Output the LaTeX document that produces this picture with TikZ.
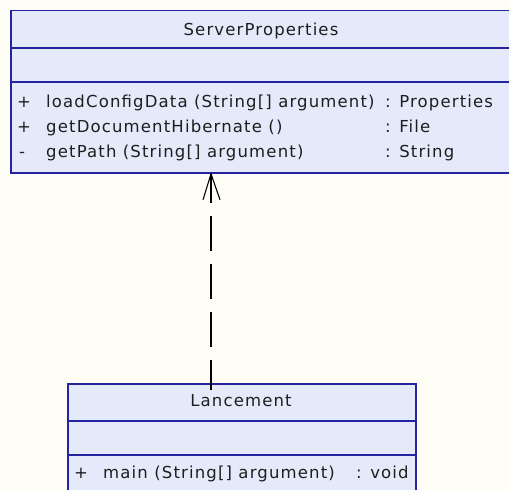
\documentclass[tikz,border=0pt]{standalone}
\usepackage{fontspec}
\setmainfont{DejaVu Sans}[LetterSpace=7]
\usetikzlibrary{arrows.meta}
\definecolor{paper}{RGB}{254,254,246}
\definecolor{classfill}{RGB}{228,234,250}
\definecolor{classline}{RGB}{36,36,160}
\definecolor{ink}{RGB}{30,30,30}
\begin{document}
\begin{tikzpicture}[x=1pt,y=-1pt,
  classbox/.style={draw=classline,fill=classfill,line width=1.8pt,inner sep=0pt,anchor=north west},
  compline/.style={draw=classline,line width=1.8pt},
  txt/.style={inner sep=0pt,text=ink,font=\fontsize{16.5}{18}\selectfont},
  depend/.style={line width=1.6pt,dash pattern=on 35pt off 13pt,dash phase=5pt},
  openhead/.style={line width=1.1pt}]
  % page
  \fill[paper] (0,0) rectangle (509,490);
  \useasboundingbox (0,0) rectangle (509,490);

  % class ServerProperties
  \node[classbox,minimum width=501pt,minimum height=162.5pt] (server) at (10,9.5) {};
  \draw[compline] (10,48) -- (511,48);
  \draw[compline] (10,82) -- (511,82);
  \node[txt,anchor=base] (sname) at (261,35) {ServerProperties};
  \node[txt,anchor=base west] (s1v) at (17,107) {+};
  \node[txt,anchor=base west] (s1) at (46,107) {loadConfigData (String[] argument)};
  \node[txt,anchor=base west] (s1r) at (385,107) {: Properties};
  \node[txt,anchor=base west] (s2v) at (17,132) {+};
  \node[txt,anchor=base west] (s2) at (46,132) {getDocumentHibernate ()};
  \node[txt,anchor=base west] (s2r) at (385,132) {: File};
  \node[txt,anchor=base west] (s3v) at (19,157) {-};
  \node[txt,anchor=base west] (s3) at (46,157) {getPath (String[] argument)};
  \node[txt,anchor=base west] (s3r) at (385,157) {: String};

  % class Lancement
  \node[classbox,minimum width=348pt,minimum height=120pt] (lanc) at (67,383) {};
  \draw[compline] (67,421) -- (415,421);
  \draw[compline] (67,455) -- (415,455);
  \node[txt,anchor=base] (lname) at (241,406) {Lancement};
  \node[txt,anchor=base west] (l1v) at (74,478) {+};
  \node[txt,anchor=base west] (l1) at (103,478) {main (String[] argument)};
  \node[txt,anchor=base west] (l1r) at (356,478) {: void};

  % dependency Lancement --> ServerProperties
  \coordinate (tail) at (211,390);
  \coordinate (tip) at (server.south -| tail);
  \draw[depend] (tail) -- (tip);
  \draw[openhead] ([xshift=-8pt,yshift=-26pt]tip) -- (tip) -- ([xshift=9pt,yshift=-26pt]tip);
\end{tikzpicture}
\end{document}
